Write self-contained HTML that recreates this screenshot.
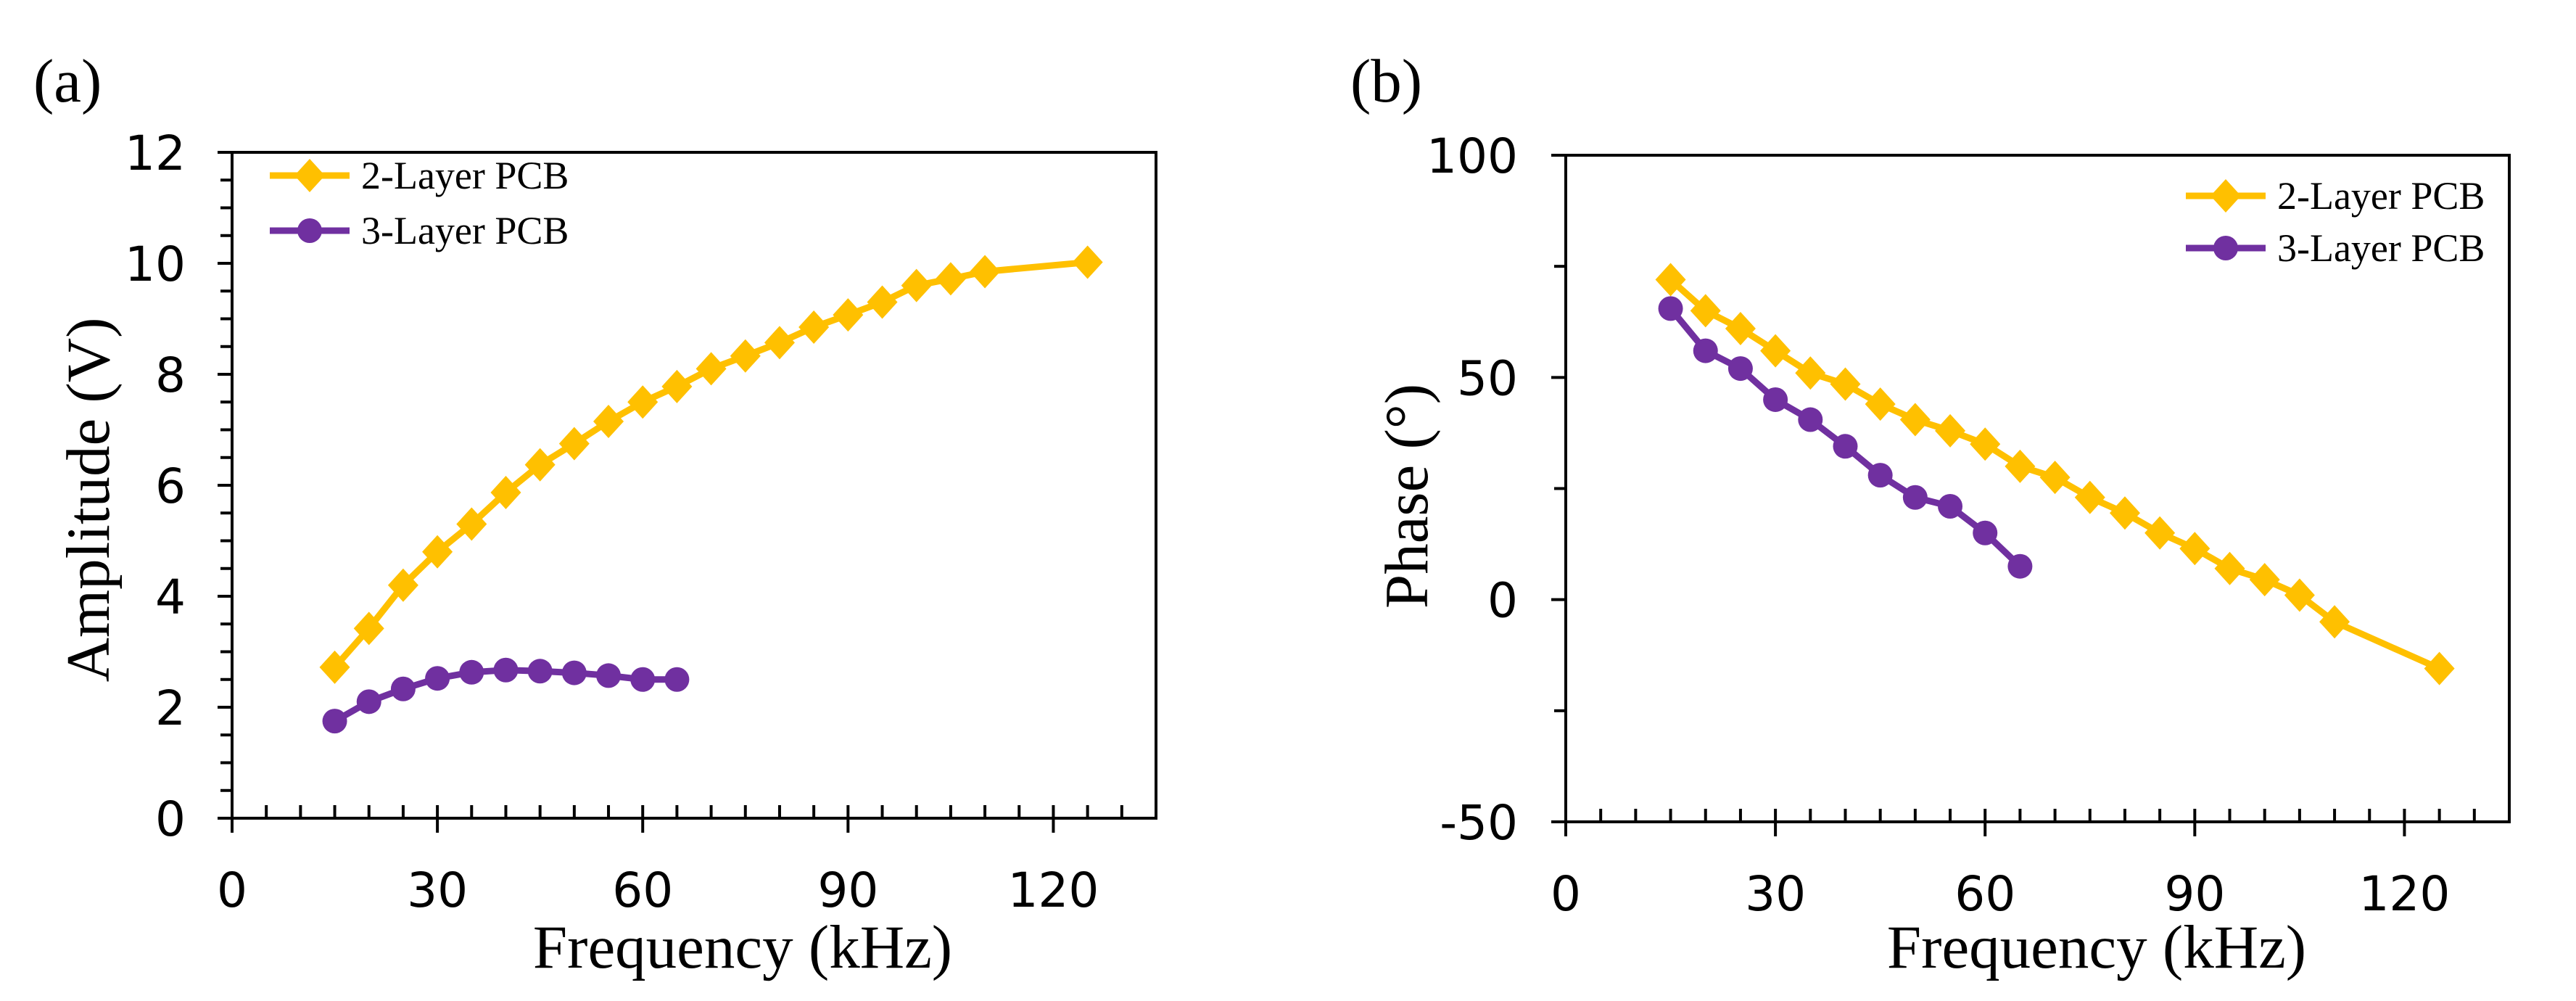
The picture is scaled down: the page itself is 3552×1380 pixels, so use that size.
<!DOCTYPE html>
<html><head><meta charset="utf-8"><style>
html,body{margin:0;padding:0;background:#fff;}
svg{display:block;}
.tk{font-family:"DejaVu Sans","Liberation Sans",sans-serif;font-size:66px;fill:#000;}
.ti{font-family:"Liberation Serif",serif;font-size:85px;fill:#000;}
.lg{font-family:"Liberation Serif",serif;font-size:54px;fill:#000;}
</style></head><body>
<svg id="c" xmlns="http://www.w3.org/2000/svg" width="3552" height="1380" viewBox="0 0 3552 1380"></svg>
<script>
const freq2 = [15,20,25,30,35,40,45,50,55,60,65,70,75,80,85,90,95,100,105,110,125];
const amp2 = [2.72,3.42,4.2,4.8,5.3,5.87,6.37,6.75,7.15,7.5,7.78,8.1,8.33,8.57,8.85,9.07,9.3,9.6,9.72,9.85,10.02];
const freq3 = [15,20,25,30,35,40,45,50,55,60,65];
const amp3 = [1.75,2.1,2.33,2.52,2.63,2.67,2.65,2.62,2.57,2.5,2.5];
const phase2 = [72,65,61,56,51,48.5,44,40.5,38,35,30,27.5,23,19.5,15,11.5,7,4.5,1,-5,-15.5];
const phase3 = [65.5,56,52,45,40.5,34.5,28,23,21,15,7.5];
const xTicks = [0,30,60,90,120];
const ampTicks = [0,2,4,6,8,10,12];
const phaseTicks = [-50,0,50,100];
const seriesNames = ["2-Layer PCB","3-Layer PCB"];

const NS="http://www.w3.org/2000/svg";
const svg=document.getElementById('c');
function mk(tag,attrs,parent){const e=document.createElementNS(NS,tag);for(const k in attrs)e.setAttribute(k,attrs[k]);(parent||svg).appendChild(e);return e;}
const GOLD="#FFC000", PURP="#7030A0";

function panel(o){
  const g=mk('g',{});
  
  
  const X=v=>o.x0+(v-0)/(135)*(o.x1-o.x0);
  const Y=v=>o.y1-(v-o.ymin)/(o.ymax-o.ymin)*(o.y1-o.y0);
  const fr=mk('rect',{x:o.x0,y:o.y0,width:o.x1-o.x0,height:o.y1-o.y0,fill:'none',stroke:'#000','stroke-width':4},g);
  
  const xa=Y(o.ymin);
  for(let v=5;v<135;v+=5){const maj=v%30===0;mk('line',{x1:X(v),x2:X(v),y1:xa-18,y2:maj?xa+20:xa,stroke:'#000','stroke-width':4},g);}
  mk('line',{x1:X(0),x2:X(0),y1:xa,y2:xa+20,stroke:'#000','stroke-width':4},g);
  xTicks.forEach(v=>{const t=mk('text',{x:X(v),y:o.y1+122,'text-anchor':'middle',class:'tk'},g);t.textContent=v;
    });
  for(let v=o.ymin;v<=o.ymax+1e-9;v+=o.minor){const maj=Math.abs((v-o.ymin)/o.major-Math.round((v-o.ymin)/o.major))<1e-6;
    mk('line',{x1:o.x0-(maj?20:16),x2:o.x0,y1:Y(v),y2:Y(v),stroke:'#000','stroke-width':4},g);}
  o.yt.forEach(v=>{const t=mk('text',{x:o.lx,y:Y(v)+24,'text-anchor':'end',class:'tk'},g);t.textContent=v;
    });
  const xt=mk('text',{x:o.xtx,y:1334,'text-anchor':'middle',class:'ti'},g);xt.textContent='Frequency (kHz)';
  
  const yt=mk('text',{x:0,y:0,'text-anchor':'middle',class:'ti',transform:`translate(${o.ytx},${o.yty}) rotate(-90)`},g);yt.textContent=o.ytitle;
  
  const pl=mk('text',{x:o.plx,y:140,class:'ti','font-size':104},g);pl.textContent=o.label;
  
  const dia=(cx,cy,p)=>mk('polygon',{points:`${cx},${cy-23} ${cx+21},${cy} ${cx},${cy+23} ${cx-21},${cy}`,fill:GOLD},p);
  const circ=(cx,cy,p)=>mk('ellipse',{cx,cy,rx:17,ry:17,fill:PURP},p);
  [[freq2,o.s2,GOLD,dia,'series-2-layer'],[freq3,o.s3,PURP,circ,'series-3-layer']].forEach(([xs,ys,col,m,nm])=>{
    const sg=mk('g',{},g);
    const pts=xs.map((x,i)=>X(x)+','+Y(ys[i])).join(' ');
    mk('polyline',{points:pts,fill:'none',stroke:col,'stroke-width':9,'stroke-linejoin':'round'},sg);
    xs.forEach((x,i)=>{const e=m(X(x),Y(ys[i]),sg);});
  });
  const lg=mk('g',{},g);
  [[GOLD,dia],[PURP,circ]].forEach(([col,m],i)=>{
    const y=o.legY[i];
    const e=mk('g',{},lg);
    mk('line',{x1:o.legX,x2:o.legX+110,y1:y,y2:y,stroke:col,'stroke-width':9},e);
    m(o.legX+55,y,e);
    const t=mk('text',{x:o.legX+126,y:y+18,class:'lg'},e);t.textContent=seriesNames[i];
  });
}
panel({name:'amplitude-chart',x0:320,x1:1594,y0:210,y1:1128,ymin:0,ymax:12,minor:0.5,major:2,yt:ampTicks,lx:256,
  s2:amp2,s3:amp3,xtx:1024,ytitle:'Amplitude (V)',ytx:150,yty:689,label:'(a)',plx:46,legX:372,legY:[242,318]});
panel({name:'phase-chart',x0:2159,x1:3460,y0:214,y1:1133,ymin:-50,ymax:100,minor:25,major:50,yt:phaseTicks,lx:2093,
  s2:phase2,s3:phase3,xtx:2891,ytitle:'Phase (°)',ytx:1968,yty:684,label:'(b)',plx:1862,legX:3014,legY:[270,342]});
</script>
</body></html>
